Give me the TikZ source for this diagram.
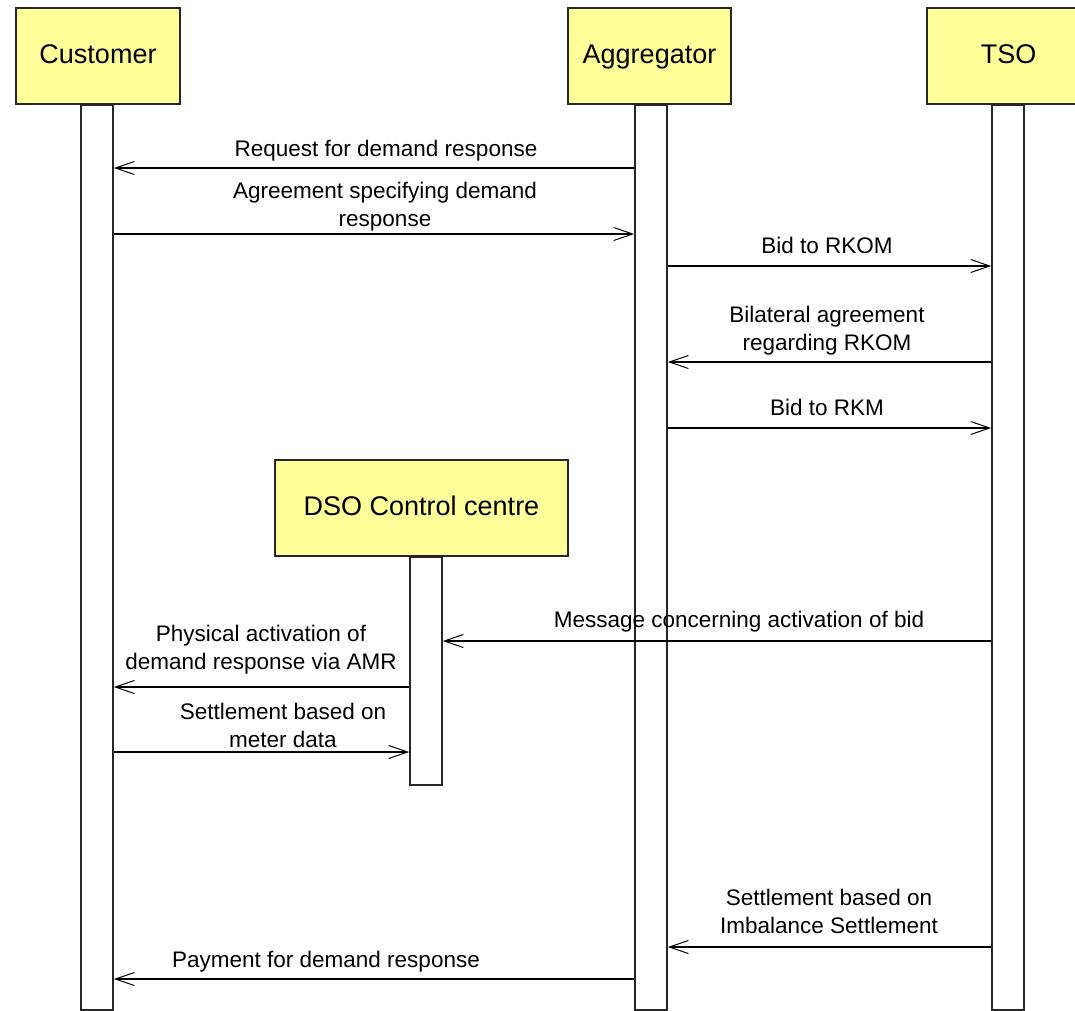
\documentclass[tikz,border=0pt]{standalone}
\usepackage{fontspec}
\setmainfont{Liberation Sans}
\usetikzlibrary{arrows.meta}
\definecolor{actorfill}{RGB}{255,255,153}

\begin{document}
\begin{tikzpicture}
[
    x=1pt, y=-1pt,
    actor/.style={draw=black!85, line width=1.6pt, fill=actorfill, minimum width=163pt, minimum height=96pt, inner sep=0pt, text height=19.5pt, text depth=5.5pt, font=\fontsize{27}{32}\selectfont},
    lifebar/.style={draw=black!85, line width=1.6pt, fill=white, minimum width=32pt, anchor=north},
    msg/.style={line width=1.4pt, -{Straight Barb[length=19pt,width=13pt,line width=1pt]}},
    note/.style={align=center, anchor=base, inner sep=0pt, font=\fontsize{22.5}{27.5}\selectfont},
]
\useasboundingbox (0,0) rectangle (1075,1010);

% lifelines
\node [lifebar, minimum height=905pt] (custbar) at (97,104) {};
\node [lifebar, minimum height=905pt] (aggbar) at (651,104) {};
\node [lifebar, minimum height=905pt] (tsobar) at (1008,104) {};
\node [lifebar, minimum height=228pt] (dsobar) at (426,556) {};

% actor heads
\node [actor, minimum width=164pt] (cust) at (98,56) {Customer};
\node [actor] (agg) at (649.5,56) {Aggregator};
\node [actor] (tso) at (1008.5,56) {TSO};
\node [actor, minimum width=293pt] (dso) at (421.5,508) {DSO Control centre};

% messages (two-line notes sit on the baseline of their last line)
\draw [msg] (aggbar.west |- 0,168) -- (custbar.east |- 0,168);
\node [note] (m1) at (386,156) {Request for demand response};

\draw [msg] (custbar.east |- 0,234) -- (aggbar.west |- 0,234);
\node [note] (m2) at (385,226) {Agreement specifying demand\\response};

\draw [msg] (aggbar.east |- 0,266) -- (tsobar.west |- 0,266);
\node [note] (m3) at (827,253) {Bid to RKOM};

\draw [msg] (tsobar.west |- 0,362) -- (aggbar.east |- 0,362);
\node [note] (m4) at (827,350) {Bilateral agreement\\regarding RKOM};

\draw [msg] (aggbar.east |- 0,428) -- (tsobar.west |- 0,428);
\node [note] (m5) at (827,415) {Bid to RKM};

\draw [msg] (tsobar.west |- 0,641) -- (dsobar.east |- 0,641);
\node [note] (m6) at (739,627) {Message concerning activation of bid};

\draw [msg] (dsobar.west |- 0,687) -- (custbar.east |- 0,687);
\node [note] (m7) at (261,669) {Physical activation of\\demand response via AMR};

\draw [msg] (custbar.east |- 0,752) -- (dsobar.west |- 0,752);
\node [note] (m8) at (283,747) {Settlement based on\\meter data};

\draw [msg] (tsobar.west |- 0,947) -- (aggbar.east |- 0,947);
\node [note] (m9) at (829,933) {Settlement based on\\Imbalance Settlement};

\draw [msg] (aggbar.west |- 0,979) -- (custbar.east |- 0,979);
\node [note] (m10) at (326,967) {Payment for demand response};
\end{tikzpicture}
\end{document}
